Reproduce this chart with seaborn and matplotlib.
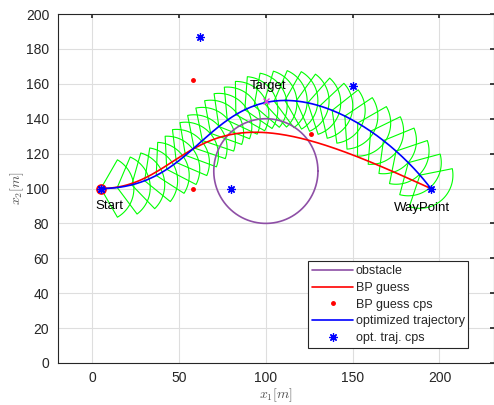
import numpy as np
import pandas as pd
import matplotlib
matplotlib.use("Agg")
import matplotlib.pyplot as plt
import seaborn as sns
from math import comb

# Control points of the initial guess (BP) and optimized Bezier trajectories
bp_cps_x = [5, 58, 58, 126, 195]
bp_cps_y = [100, 100, 162, 131, 100]
opt_cps_x = [5, 80, 62, 150, 195]
opt_cps_y = [100, 100, 187, 159, 100]

# Circular obstacle
obs_center = (100, 110)
obs_radius = 30

# Named locations
start_pt = (5, 100)
target_pt = (100, 150)
waypoint_pt = (195, 100)
labels = ["Start", "Target", "WayPoint"]
label_x = [2, 90.5, 173.5]
label_y = [90, 158.5, 89]

# Sensor footprint (circular sector) along the optimized trajectory
fov_radius = 19
fov_half_angle = np.deg2rad(60)
n_footprints = 30


def bezier(cx, cy, t):
    n = len(cx) - 1
    t = np.asarray(t)
    bx = sum(comb(n, i) * t**i * (1 - t)**(n - i) * cx[i] for i in range(n + 1))
    by = sum(comb(n, i) * t**i * (1 - t)**(n - i) * cy[i] for i in range(n + 1))
    return bx, by


def bezier_heading(cx, cy, t):
    n = len(cx) - 1
    dx = [n * (cx[i + 1] - cx[i]) for i in range(n)]
    dy = [n * (cy[i + 1] - cy[i]) for i in range(n)]
    vx, vy = bezier(dx, dy, t)
    return np.arctan2(vy, vx)


sns.set_theme(style="whitegrid")
plt.rcParams["font.family"] = ["Liberation Sans", "DejaVu Sans"]
plt.rcParams["mathtext.fontset"] = "cm"

fig = plt.figure(figsize=(4.94, 4.05), dpi=100)
ax = fig.add_axes([57.5 / 494, 42 / 405, 436 / 494, 349 / 405])
ax.set_facecolor("white")

t = np.linspace(0, 1, 300)
bpx, bpy = bezier(bp_cps_x, bp_cps_y, t)
optx, opty = bezier(opt_cps_x, opt_cps_y, t)

# footprints, one per sample step (the final waypoint has none)
tf = np.arange(n_footprints) / n_footprints
fx, fy = bezier(opt_cps_x, opt_cps_y, tf)
fh = bezier_heading(opt_cps_x, opt_cps_y, tf)
for x0, y0, h in zip(fx, fy, fh):
    ang = np.linspace(h - fov_half_angle, h + fov_half_angle, 40)
    px = np.concatenate([[x0], x0 + fov_radius * np.cos(ang), [x0]])
    py = np.concatenate([[y0], y0 + fov_radius * np.sin(ang), [y0]])
    ax.plot(px, py, color="#00ff00", lw=0.8, zorder=2)

# obstacle
th = np.linspace(0, 2 * np.pi, 200)
obs = pd.DataFrame({"x": obs_center[0] + obs_radius * np.cos(th),
                    "y": obs_center[1] + obs_radius * np.sin(th)})
sns.lineplot(data=obs, x="x", y="y", sort=False, estimator=None, color="#8e4fa6",
             lw=1.2, ax=ax, label="obstacle", zorder=3)

# initial guess
sns.lineplot(x=bpx, y=bpy, sort=False, estimator=None, color="red", lw=1.2,
             ax=ax, label="BP guess", zorder=4)
ax.plot(bp_cps_x, bp_cps_y, ".", color="red", ms=5, label="BP guess cps", zorder=5)

# optimized
sns.lineplot(x=optx, y=opty, sort=False, estimator=None, color="blue", lw=1.2,
             ax=ax, label="optimized trajectory", zorder=6)
ax.plot(opt_cps_x, opt_cps_y, linestyle="none", marker=(8, 2, 0), color="blue",
        ms=6, mew=0.9, label="opt. traj. cps", zorder=7)

# start / target markers
ax.plot(*start_pt, "o", mfc="#ff9090", mec="red", ms=6.5, mew=1.2, zorder=5)
ax.plot(*start_pt, linestyle="none", marker=(8, 2, 0), color="blue", ms=6,
        mew=0.9, zorder=8)
ax.plot(*target_pt, "x", color="#e040e0", ms=4, mew=1.0, zorder=8)

for s, x, y in zip(labels, label_x, label_y):
    ax.text(x, y, s, fontsize=9.5, color="black", ha="left", va="center", zorder=9)

ax.set_xlim(-20, 231.1)
ax.set_ylim(0, 200)
ax.set_xticks([0, 50, 100, 150, 200])
ax.set_yticks(np.arange(0, 201, 20))
ax.grid(True, color="#dedede", lw=0.8)
ax.tick_params(direction="in", length=3, top=True, right=True, labelsize=10,
               colors="#262626", pad=6)
for sp in ax.spines.values():
    sp.set_color("#262626")
    sp.set_linewidth(0.8)

ax.set_xlabel(r"$x_1[m]$", fontsize=10, color="#555555", labelpad=1)
ax.set_ylabel(r"$x_2[m]$", fontsize=10, color="#555555", labelpad=0)

leg = ax.legend(loc="lower left", bbox_to_anchor=(0.575, 0.043), fontsize=9,
                frameon=True, fancybox=False, edgecolor="#262626", framealpha=1,
                handlelength=3.3, borderpad=0.3, labelspacing=0.38, handletextpad=0.2,
                borderaxespad=0)
leg.get_frame().set_linewidth(0.8)

fig.savefig("out.png", dpi=100)
